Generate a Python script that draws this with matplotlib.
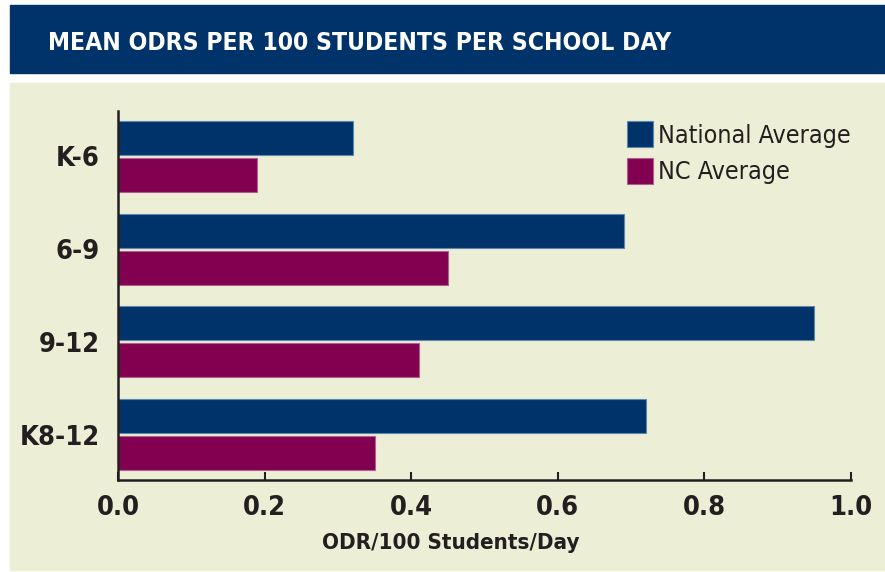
import matplotlib
matplotlib.use("Agg")
import matplotlib.pyplot as plt
from matplotlib import font_manager
from matplotlib.patches import Rectangle
import numpy as np

# data
categories = ["K-6", "6-9", "9-12", "K8-12"]
national_avg = [0.32, 0.69, 0.95, 0.72]
nc_avg = [0.19, 0.45, 0.41, 0.35]
x_ticks = [0.0, 0.2, 0.4, 0.6, 0.8, 1.0]

NAVY = "#00336a"
MAROON = "#820050"
BEIGE = "#eceed5"
INK = "#231f20"

# prefer a narrow face if one is installed
names = {f.name for f in font_manager.fontManager.ttflist}
condensed = [f for f in font_manager.fontManager.ttflist
             if f.stretch in ("condensed", "semi-condensed", 300) or
             "Narrow" in f.name or "Condensed" in f.name]
FAMILY = ["Liberation Sans Narrow", "DejaVu Sans"]
STRETCH = "normal"
if "Liberation Sans Narrow" not in names:
    dv = [f for f in condensed if f.name == "DejaVu Sans"]
    if dv:
        STRETCH = "condensed"
    elif condensed:
        FAMILY = [condensed[0].name, "DejaVu Sans"]
        STRETCH = condensed[0].stretch
plt.rcParams["font.family"] = FAMILY
plt.rcParams["font.stretch"] = STRETCH

W, H = 885, 572
fig = plt.figure(figsize=(W / 100, H / 100), dpi=100)
fig.patch.set_facecolor("white")

# title band and beige panel (pixel boxes converted to figure fractions)
fig.patches.append(Rectangle((10 / W, 1 - 73 / H), 875 / W, 68 / H,
                             transform=fig.transFigure, color=NAVY, zorder=-5))
fig.patches.append(Rectangle((10 / W, 1 - 570 / H), 875 / W, 487 / H,
                             transform=fig.transFigure, color=BEIGE, zorder=-5))
fig.text(48 / W, 1 - 43 / H, "MEAN ODRS PER 100 STUDENTS PER SCHOOL DAY",
         color="white", fontsize=17.7, fontweight="bold", va="center", ha="left")

ax = fig.add_axes([118 / W, 1 - 480 / H, 733 / W, 369 / H])
ax.set_facecolor("none")
ax.set_zorder(5)

y = np.arange(len(categories))
h = 0.366
off = 0.199
ax.barh(y - off, national_avg, height=h, color=NAVY, edgecolor="#5d87b0",
        linewidth=0.8, label="National Average")
ax.barh(y + off, nc_avg, height=h, color=MAROON, edgecolor="#b0608e",
        linewidth=0.8, label="NC Average")

ax.set_xlim(0, 1.0)
ax.set_ylim(3.49, -0.49)
ax.set_yticks(y)
ax.set_yticklabels(categories, fontsize=19.5, fontweight="bold", color=INK)
ax.tick_params(axis="y", length=0, pad=13)
ax.set_xticks(x_ticks)
ax.set_xticklabels([f"{t:.1f}" for t in x_ticks], fontsize=19.5,
                   fontweight="bold", color=INK)
ax.tick_params(axis="x", direction="in", length=6, width=1.5, color=INK, pad=11)

for s in ["top", "right"]:
    ax.spines[s].set_visible(False)
for s in ["left", "bottom"]:
    ax.spines[s].set_color(INK)
    ax.spines[s].set_linewidth(1.8)

# axis title sits a bit left of the axes centre in the reference
fig.text(451 / W, 1 - 543 / H, "ODR/100 Students/Day", fontsize=16,
         fontweight="bold", color=INK, ha="center", va="center")

leg = ax.legend(loc="upper left", bbox_to_anchor=(499 / 733, 1.0),
                frameon=False, fontsize=18, handlelength=1.05, handleheight=1.25,
                handletextpad=0.2, labelspacing=0.4, borderaxespad=0)
for t in leg.get_texts():
    t.set_color(INK)

fig.savefig("out.png", dpi=100, facecolor=fig.get_facecolor())
